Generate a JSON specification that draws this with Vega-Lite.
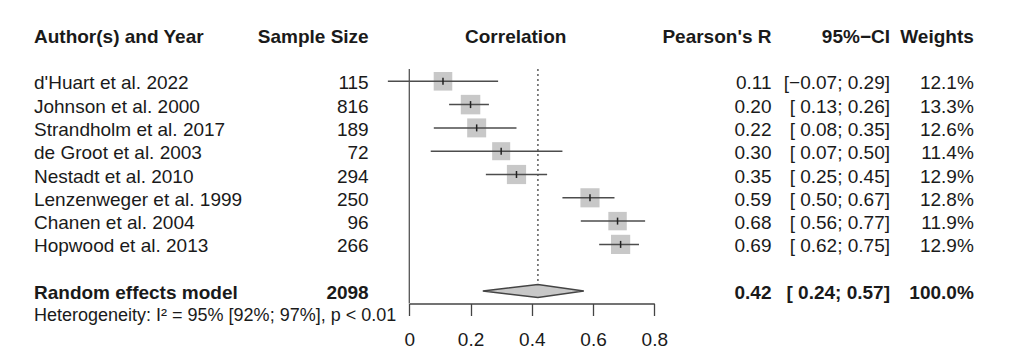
{
  "$schema": "https://vega.github.io/schema/vega-lite/v6.json",
  "width": 1024,
  "height": 303.5,
  "autosize": {"type": "none"},
  "padding": {"left": 0, "top": 0, "right": 0, "bottom": 54.5},
  "background": "white",
  "config": {
    "view": {"stroke": null},
    "text": {"font": "Liberation Sans", "fontSize": 19, "color": "#1a1a1a", "baseline": "middle", "dy": 2},
    "axis": {"domainColor": "#444444", "domainWidth": 1.3, "tickColor": "#444444", "tickWidth": 1.3, "tickSize": 12, "labelFont": "Liberation Sans", "labelFontSize": 19, "labelColor": "#1a1a1a", "labelPadding": 15, "labelFlush": false, "grid": false, "title": null}
  },
  "datasets": {
    "studies": [
      {"author": "d'Huart et al. 2022", "n": 115, "r": 0.11, "lo": -0.07, "hi": 0.29, "ci": "[\u22120.07; 0.29]", "weight": 0.121},
      {"author": "Johnson et al. 2000", "n": 816, "r": 0.20, "lo": 0.13, "hi": 0.26, "ci": "[ 0.13; 0.26]", "weight": 0.133},
      {"author": "Strandholm et al. 2017", "n": 189, "r": 0.22, "lo": 0.08, "hi": 0.35, "ci": "[ 0.08; 0.35]", "weight": 0.126},
      {"author": "de Groot et al. 2003", "n": 72, "r": 0.30, "lo": 0.07, "hi": 0.50, "ci": "[ 0.07; 0.50]", "weight": 0.114},
      {"author": "Nestadt et al. 2010", "n": 294, "r": 0.35, "lo": 0.25, "hi": 0.45, "ci": "[ 0.25; 0.45]", "weight": 0.129},
      {"author": "Lenzenweger et al. 1999", "n": 250, "r": 0.59, "lo": 0.50, "hi": 0.67, "ci": "[ 0.50; 0.67]", "weight": 0.128},
      {"author": "Chanen et al. 2004", "n": 96, "r": 0.68, "lo": 0.56, "hi": 0.77, "ci": "[ 0.56; 0.77]", "weight": 0.119},
      {"author": "Hopwood et al. 2013", "n": 266, "r": 0.69, "lo": 0.62, "hi": 0.75, "ci": "[ 0.62; 0.75]", "weight": 0.129}
    ],
    "pooled": [
      {"author": "Random effects model", "n": 2098, "r": 0.42, "lo": 0.24, "hi": 0.57, "ci": "[ 0.24; 0.57]", "weight": 1.0}
    ]
  },
  "layer": [
    {
      "data": {"name": "studies"},
      "mark": {"type": "point", "shape": "square", "filled": true, "color": "#c8c8c8", "opacity": 1},
      "encoding": {
        "x": {"field": "r", "type": "quantitative", "scale": {"domain": [0, 0.8], "range": [409.3, 654.3], "nice": false, "zero": false}, "axis": {"values": [0, 0.2, 0.4, 0.6, 0.8], "format": "~g", "title": null, "grid": false}},
        "y": {"field": "author", "type": "nominal", "scale": {"type": "point", "domain": ["Author(s) and Year", " ", "d'Huart et al. 2022", "Johnson et al. 2000", "Strandholm et al. 2017", "de Groot et al. 2003", "Nestadt et al. 2010", "Lenzenweger et al. 1999", "Chanen et al. 2004", "Hopwood et al. 2013", "  ", "Random effects model", "Heterogeneity"], "range": [34.7, 314.3], "padding": 0}, "axis": null},
        "size": {"field": "weight", "type": "quantitative", "scale": {"domain": [0, 0.133], "range": [0, 380], "zero": true}, "legend": null}
      }
    },
    {
      "data": {"name": "pooled"},
      "mark": {"type": "rule", "color": "#555555", "strokeWidth": 1.3, "yOffset": 11, "y2Offset": 12.5},
      "encoding": {
        "x": {"datum": 0, "type": "quantitative"},
        "y": {"datum": " ", "type": "nominal"},
        "y2": {"datum": "Random effects model"}
      }
    },
    {
      "data": {"name": "pooled"},
      "mark": {"type": "rule", "color": "#444444", "strokeWidth": 1.3, "strokeDash": [2, 3], "yOffset": 11},
      "encoding": {
        "x": {"field": "r", "type": "quantitative"},
        "y": {"datum": " ", "type": "nominal"},
        "y2": {"datum": "Random effects model"}
      }
    },
    {
      "data": {"name": "studies"},
      "mark": {"type": "rule", "color": "#4d4d4d", "strokeWidth": 1.5},
      "encoding": {
        "x": {"field": "lo", "type": "quantitative"},
        "x2": {"field": "hi"},
        "y": {"field": "author", "type": "nominal"}
      }
    },
    {
      "data": {"name": "studies"},
      "mark": {"type": "tick", "orient": "vertical", "size": 7, "thickness": 1.5, "color": "#222222", "opacity": 1},
      "encoding": {
        "x": {"field": "r", "type": "quantitative"},
        "y": {"field": "author", "type": "nominal"}
      }
    },
    {
      "data": {"name": "pooled"},
      "mark": {"type": "point", "shape": "M-55.1,0L0,-6.5L45.9,0L0,6.5Z", "size": 4, "filled": true, "fill": "#c8c8c8", "stroke": "#444444", "strokeWidth": 1.5, "opacity": 1},
      "encoding": {
        "x": {"field": "r", "type": "quantitative"},
        "y": {"field": "author", "type": "nominal"}
      }
    },
    {
      "data": {"name": "studies"},
      "mark": {"type": "text", "align": "left"},
      "encoding": {"x": {"datum": -1.2255, "type": "quantitative"}, "y": {"field": "author", "type": "nominal"}, "text": {"field": "author"}}
    },
    {
      "data": {"name": "studies"},
      "mark": {"type": "text", "align": "right"},
      "encoding": {"x": {"datum": -0.1326, "type": "quantitative"}, "y": {"field": "author", "type": "nominal"}, "text": {"field": "n"}}
    },
    {
      "data": {"name": "studies"},
      "mark": {"type": "text", "align": "right"},
      "encoding": {"x": {"datum": 1.1827, "type": "quantitative"}, "y": {"field": "author", "type": "nominal"}, "text": {"field": "r", "format": ".2f"}}
    },
    {
      "data": {"name": "studies"},
      "mark": {"type": "text", "align": "right"},
      "encoding": {"x": {"datum": 1.5696, "type": "quantitative"}, "y": {"field": "author", "type": "nominal"}, "text": {"field": "ci"}}
    },
    {
      "data": {"name": "studies"},
      "mark": {"type": "text", "align": "right"},
      "encoding": {"x": {"datum": 1.8433, "type": "quantitative"}, "y": {"field": "author", "type": "nominal"}, "text": {"field": "weight", "format": ".1%"}}
    },
    {
      "data": {"name": "pooled"},
      "mark": {"type": "text", "align": "left", "fontWeight": "bold"},
      "encoding": {"x": {"datum": -1.2255, "type": "quantitative"}, "y": {"field": "author", "type": "nominal"}, "text": {"field": "author"}}
    },
    {
      "data": {"name": "pooled"},
      "mark": {"type": "text", "align": "right", "fontWeight": "bold"},
      "encoding": {"x": {"datum": -0.1326, "type": "quantitative"}, "y": {"field": "author", "type": "nominal"}, "text": {"field": "n"}}
    },
    {
      "data": {"name": "pooled"},
      "mark": {"type": "text", "align": "right", "fontWeight": "bold"},
      "encoding": {"x": {"datum": 1.1827, "type": "quantitative"}, "y": {"field": "author", "type": "nominal"}, "text": {"field": "r", "format": ".2f"}}
    },
    {
      "data": {"name": "pooled"},
      "mark": {"type": "text", "align": "right", "fontWeight": "bold"},
      "encoding": {"x": {"datum": 1.5696, "type": "quantitative"}, "y": {"field": "author", "type": "nominal"}, "text": {"field": "ci"}}
    },
    {
      "data": {"name": "pooled"},
      "mark": {"type": "text", "align": "right", "fontWeight": "bold"},
      "encoding": {"x": {"datum": 1.8433, "type": "quantitative"}, "y": {"field": "author", "type": "nominal"}, "text": {"field": "weight", "format": ".1%"}}
    },
    {
      "data": {"name": "pooled"},
      "mark": {"type": "text", "align": "left", "fontWeight": "bold", "text": "Author(s) and Year"},
      "encoding": {"x": {"datum": -1.2255, "type": "quantitative"}, "y": {"datum": "Author(s) and Year", "type": "nominal"}}
    },
    {
      "data": {"name": "pooled"},
      "mark": {"type": "text", "align": "right", "fontWeight": "bold", "text": "Sample Size"},
      "encoding": {"x": {"datum": -0.1326, "type": "quantitative"}, "y": {"datum": "Author(s) and Year", "type": "nominal"}}
    },
    {
      "data": {"name": "pooled"},
      "mark": {"type": "text", "align": "center", "fontWeight": "bold", "text": "Correlation"},
      "encoding": {"x": {"datum": 0.3474, "type": "quantitative"}, "y": {"datum": "Author(s) and Year", "type": "nominal"}}
    },
    {
      "data": {"name": "pooled"},
      "mark": {"type": "text", "align": "right", "fontWeight": "bold", "text": "Pearson's R"},
      "encoding": {"x": {"datum": 1.1827, "type": "quantitative"}, "y": {"datum": "Author(s) and Year", "type": "nominal"}}
    },
    {
      "data": {"name": "pooled"},
      "mark": {"type": "text", "align": "right", "fontWeight": "bold", "text": "95%\u2212CI"},
      "encoding": {"x": {"datum": 1.5696, "type": "quantitative"}, "y": {"datum": "Author(s) and Year", "type": "nominal"}}
    },
    {
      "data": {"name": "pooled"},
      "mark": {"type": "text", "align": "right", "fontWeight": "bold", "text": "Weights"},
      "encoding": {"x": {"datum": 1.8433, "type": "quantitative"}, "y": {"datum": "Author(s) and Year", "type": "nominal"}}
    },
    {
      "data": {"name": "pooled"},
      "mark": {"type": "text", "align": "left", "fontSize": 18, "text": "Heterogeneity: I\u00b2 = 95% [92%; 97%], p < 0.01"},
      "encoding": {"x": {"datum": -1.2255, "type": "quantitative"}, "y": {"datum": "Heterogeneity", "type": "nominal"}}
    }
  ]
}
